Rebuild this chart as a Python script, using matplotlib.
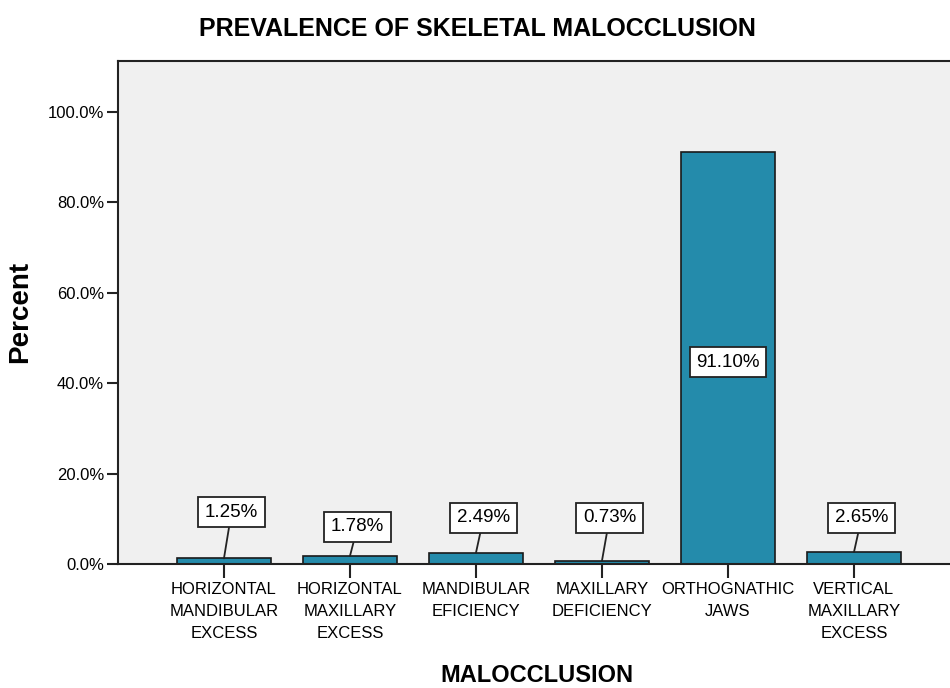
import matplotlib.pyplot as plt
from matplotlib.ticker import FuncFormatter

# Skeletal malocclusion categories and their share of patients
categories = ["HORIZONTAL\nMANDIBULAR\nEXCESS", "HORIZONTAL\nMAXILLARY\nEXCESS",
              "MANDIBULAR\nEFICIENCY", "MAXILLARY\nDEFICIENCY",
              "ORTHOGNATHIC\nJAWS", "VERTICAL\nMAXILLARY\nEXCESS"]
percent = [1.25, 1.78, 2.49, 0.73, 91.10, 2.65]
# height where each value box sits
label_y = [11.5, 8.2, 10.2, 10.2, 44.7, 10.2]

plt.rcParams['font.family'] = ["Liberation Sans", "DejaVu Sans"]

fig = plt.figure(figsize=(9.5, 6.88), dpi=100)
ax = fig.add_axes([0.1242, 0.1802, 0.8758, 0.7311])
ax.set_facecolor("#f0f0f0")

x = range(len(categories))
ax.bar(x, percent, width=0.74, color="#248bab", edgecolor="#1a1a1a", linewidth=1.2, zorder=2)

for i, (v, ly) in enumerate(zip(percent, label_y)):
    box = dict(boxstyle="square,pad=0.35", fc="white", ec="#222222", lw=1.3)
    if ly < v:
        ax.text(i, ly, f"{v:.2f}%", ha="center", va="center", fontsize=13.5, bbox=box, zorder=4)
    else:
        ax.annotate(f"{v:.2f}%", xy=(i, v), xytext=(i + 0.06, ly),
                    ha="center", va="center", fontsize=13.5, bbox=box, zorder=4,
                    arrowprops=dict(arrowstyle="-", color="#222222", lw=1.3,
                                    shrinkA=0, shrinkB=0))

ax.set_xlim(-0.841, 5.762)
ax.set_ylim(0, 111.3)
ax.set_yticks([0, 20, 40, 60, 80, 100])
ax.yaxis.set_major_formatter(FuncFormatter(lambda v, p: f"{v:.1f}%"))
ax.set_xticks(list(x))
ax.set_xticklabels(categories, fontsize=12, linespacing=1.6)
ax.tick_params(axis="y", length=8, width=1.5, labelsize=12, pad=2, color="#222222")
ax.tick_params(axis="x", length=10, width=1.5, pad=3, color="#222222")

for s in ["left", "top", "bottom"]:
    ax.spines[s].set_linewidth(1.5)
    ax.spines[s].set_color("#222222")
ax.spines["right"].set_visible(False)

fig.text(0.503, 0.958, "PREVALENCE OF SKELETAL MALOCCLUSION", fontsize=18,
         fontweight="bold", ha="center", va="center")
ax.set_xlabel("MALOCCLUSION", fontsize=17, fontweight="bold", va="center")
ax.xaxis.set_label_coords(0.504, -0.2207)
ax.set_ylabel("Percent", fontsize=20, fontweight="bold", va="center")
ax.yaxis.set_label_coords(-0.1178, 0.501)

fig.savefig("out.png", dpi=100)
